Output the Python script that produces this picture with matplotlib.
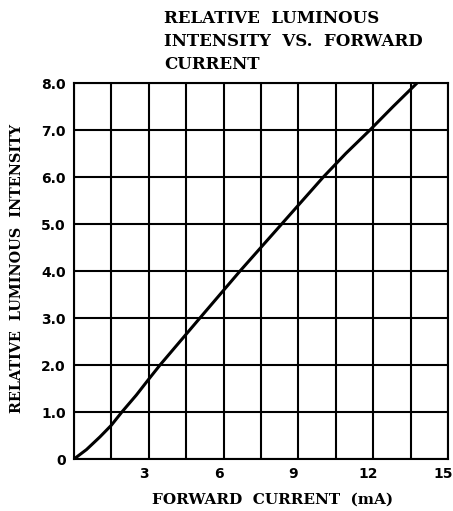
import matplotlib.pyplot as plt
import matplotlib.transforms as mtransforms
import numpy as np

# curve
current = [0, 0.5, 1.04, 1.5, 1.92, 2.5, 3.0, 3.45, 5.05, 6.66, 8.33, 10.0, 10.9, 11.87, 12.8, 13.76]
intensity = [0, 0.2, 0.47, 0.72, 1.0, 1.36, 1.7, 2.0, 3.0, 4.0, 5.0, 6.0, 6.5, 7.0, 7.5, 8.0]

x_grid = np.arange(0, 15.01, 1.5)
x_labels = ["", "", "3", "", "6", "", "9", "", "12", "", "15"]
y_grid = np.arange(0, 8.01, 1.0)
y_labels = ["0", "1.0", "2.0", "3.0", "4.0", "5.0", "6.0", "7.0", "8.0"]

fig = plt.figure(figsize=(4.53, 5.11), dpi=100)
ax = fig.add_axes([74 / 453, 52 / 511, 374 / 453, 376 / 511])

ax.plot(current, intensity, color="black", lw=2.2, solid_capstyle="round", zorder=3)

ax.set_xlim(0, 15)
ax.set_ylim(0, 8)
ax.set_xticks(x_grid)
ax.set_xticklabels(x_labels, fontfamily="DejaVu Sans", fontweight="bold", fontsize=10)
ax.set_yticks(y_grid)
ax.set_yticklabels(y_labels, fontfamily="DejaVu Sans", fontweight="bold", fontsize=10)
ax.tick_params(length=0, pad=6)
ax.grid(True, color="black", lw=1.5)
for s in ax.spines.values():
    s.set_linewidth(1.5)

# x labels sit a little left of their gridlines in the reference
shift = mtransforms.ScaledTranslation(-5 / 100, 0, fig.dpi_scale_trans)
for lab in ax.get_xticklabels():
    lab.set_transform(lab.get_transform() + shift)

fig.text(273 / 453, 1 - 500 / 511, "FORWARD  CURRENT  (mA)", ha="center", va="center",
         fontfamily="DejaVu Serif", fontweight="bold", fontsize=11)
fig.text(17 / 453, 1 - 268 / 511, "RELATIVE  LUMINOUS  INTENSITY", ha="center", va="center",
         rotation=90, fontfamily="DejaVu Serif", fontweight="bold", fontsize=10.4)

fig.text(164 / 453, 1 - 10 / 511, "RELATIVE  LUMINOUS\nINTENSITY  VS.  FORWARD\nCURRENT",
         ha="left", va="top", fontfamily="DejaVu Serif", fontweight="bold", fontsize=12,
         linespacing=1.45)

fig.savefig("out.png", dpi=100)
